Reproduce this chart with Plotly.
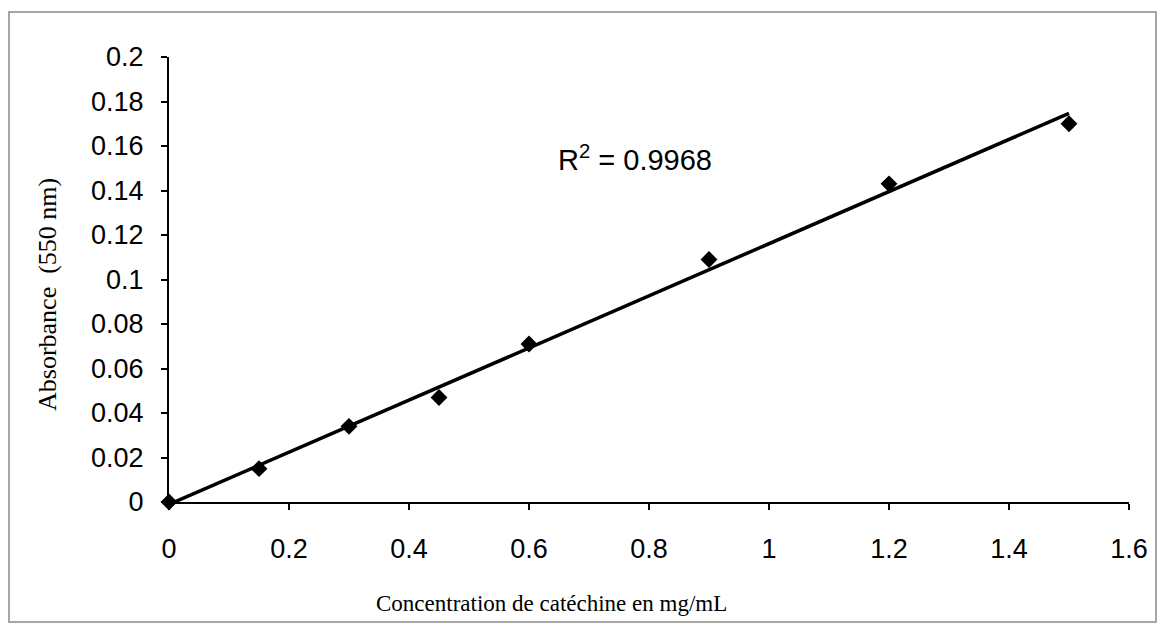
import numpy as np
import plotly.graph_objects as go

# Catechin calibration: concentration (mg/mL) vs absorbance at 550 nm
concentration = [0, 0.15, 0.3, 0.45, 0.6, 0.9, 1.2, 1.5]
absorbance = [0.0, 0.015, 0.034, 0.047, 0.071, 0.109, 0.143, 0.170]
r_squared_label = "0.9968"

x_ticks = [0, 0.2, 0.4, 0.6, 0.8, 1, 1.2, 1.4, 1.6]
x_tick_text = ["0", "0.2", "0.4", "0.6", "0.8", "1", "1.2", "1.4", "1.6"]
y_ticks = [0, 0.02, 0.04, 0.06, 0.08, 0.1, 0.12, 0.14, 0.16, 0.18, 0.2]
y_tick_text = ["0", "0.02", "0.04", "0.06", "0.08", "0.1", "0.12", "0.14", "0.16", "0.18", "0.2"]

x_title = "Concentration de catéchine en mg/mL"
y_title = "Absorbance  (550 nm)"

# Linear least-squares trend line over the measured range
slope, intercept = np.polyfit(concentration, absorbance, 1)
trend_x = [min(concentration), max(concentration)]
trend_y = [slope * v + intercept for v in trend_x]

W, H = 1161, 630
ML, MR, MT, MB = 169, 32, 57, 128
pw, ph = W - ML - MR, H - MT - MB


def px_to_paper(px, py):
    """Convert page pixel coordinates to paper coordinates."""
    return (px - ML) / pw, (H - MB - py) / ph


SANS = "Liberation Sans, Arial"
SERIF = "Liberation Serif, Times New Roman"

fig = go.Figure()
fig.add_trace(go.Scatter(
    x=trend_x, y=trend_y, mode="lines",
    line=dict(color="black", width=3.5),
    hoverinfo="skip", showlegend=False, cliponaxis=False,
))
fig.add_trace(go.Scatter(
    x=concentration, y=absorbance, mode="markers",
    marker=dict(symbol="diamond", size=13, color="black"),
    showlegend=False, cliponaxis=False,
))

fig.add_annotation(
    x=0.645, y=0.1546, xref="x", yref="y", xanchor="left", yanchor="middle",
    text="R<sup>2</sup> = " + r_squared_label, showarrow=False,
    font=dict(family=SANS, size=29, color="black"),
)

# Axis titles
tx, ty = px_to_paper(551, 603)
fig.add_annotation(
    x=tx, y=ty, xref="paper", yref="paper", xanchor="center", yanchor="middle",
    text=x_title, showarrow=False, font=dict(family=SERIF, size=23, color="black"),
)
tx, ty = px_to_paper(47, 295)
fig.add_annotation(
    x=tx, y=ty, xref="paper", yref="paper", xanchor="center", yanchor="middle",
    text=y_title, textangle=-90, showarrow=False,
    font=dict(family=SERIF, size=26, color="black"),
)

# Outer frame around the chart area
x0, y0 = px_to_paper(9, 622)
x1, y1 = px_to_paper(1156, 12)
fig.add_shape(
    type="rect", xref="paper", yref="paper", x0=x0, x1=x1, y0=y0, y1=y1,
    line=dict(color="#a6a6a6", width=2), fillcolor="rgba(0,0,0,0)", layer="below",
)

fig.update_layout(
    width=W, height=H,
    margin=dict(l=ML, r=MR, t=MT, b=MB),
    paper_bgcolor="white", plot_bgcolor="white",
    font=dict(family=SANS, size=27, color="black"),
)
fig.update_xaxes(
    range=[0, 1.6], tickvals=x_ticks, ticktext=x_tick_text,
    showgrid=False, zeroline=False, showline=True, linecolor="black", linewidth=2,
    ticks="outside", ticklen=6, tickwidth=2, tickcolor="black",
    ticklabelstandoff=16,
)
fig.update_yaxes(
    range=[0, 0.2], tickvals=y_ticks, ticktext=y_tick_text,
    showgrid=False, zeroline=False, showline=True, linecolor="black", linewidth=2,
    ticks="outside", ticklen=6, tickwidth=2, tickcolor="black",
    ticklabelstandoff=12,
)

fig.write_html("out.html")
